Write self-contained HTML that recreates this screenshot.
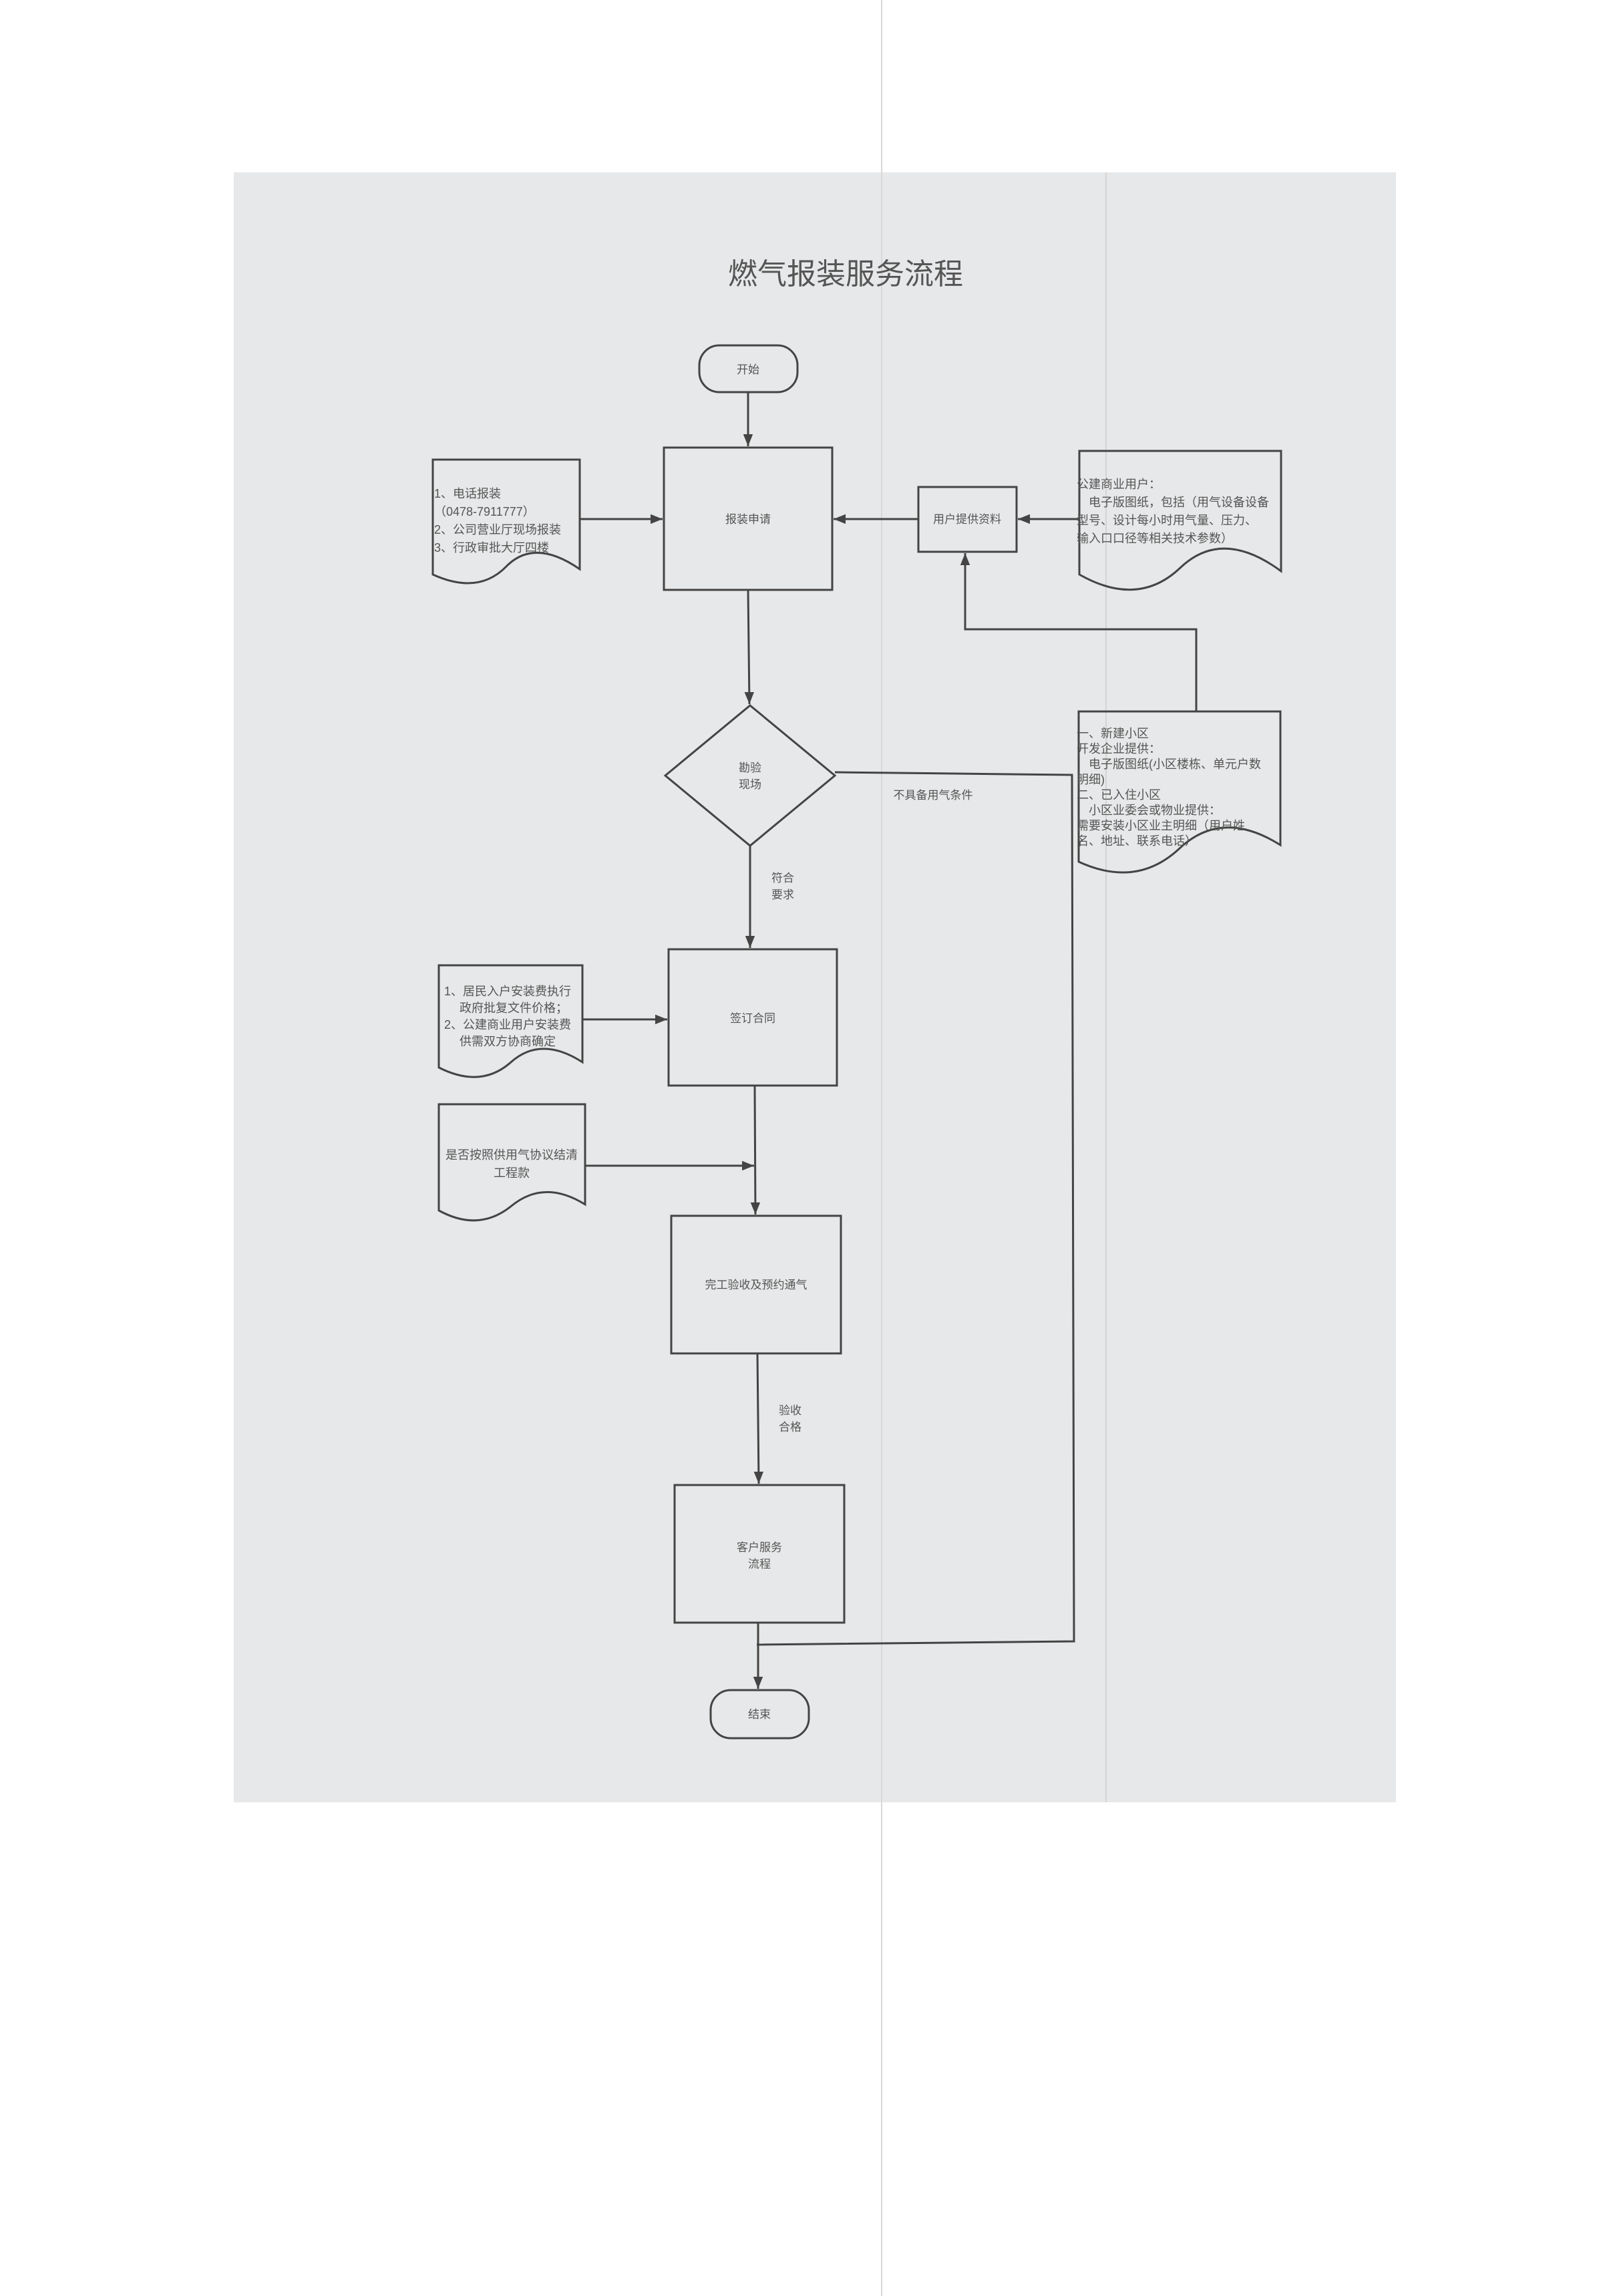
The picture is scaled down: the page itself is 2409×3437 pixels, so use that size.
<!DOCTYPE html>
<html><head><meta charset="utf-8"><style>
html,body{margin:0;padding:0;background:#fff;}
svg{display:block;}
text{font-family:"Liberation Sans","Noto Sans CJK SC",sans-serif;fill:#555;}
</style></head><body>
<svg width="2409" height="3437" viewBox="0 0 2409 3437" xmlns="http://www.w3.org/2000/svg">
<defs>
<marker id="a" viewBox="0 0 10 10" refX="10" refY="5" markerWidth="9" markerHeight="9" orient="auto" markerUnits="userSpaceOnUse">
<path d="M0,0 L10,5 L0,10 z" fill="#444"/></marker>
<marker id="b" viewBox="0 0 10 10" refX="10" refY="5" markerWidth="18" markerHeight="18" orient="auto" markerUnits="userSpaceOnUse">
<path d="M0,1 L10,5 L0,9 z" fill="#444"/></marker>
</defs>
<rect x="350" y="258" width="1740" height="2440" fill="#e7e8e9"/>
<line x1="1320" y1="0" x2="1320" y2="3437" stroke="#d8d8d8" stroke-width="2"/>
<line x1="1656" y1="258" x2="1656" y2="2698" stroke="#d4d4d4" stroke-width="2"/>

<text x="1266" y="425" font-size="44" text-anchor="middle" fill="#444">燃气报装服务流程</text>

<g fill="none" stroke="#444" stroke-width="3">
<rect x="1047" y="517" width="147" height="70" rx="30"/>
<rect x="994" y="670" width="252" height="213"/>
<rect x="1375" y="729" width="147" height="97"/>
<path d="M1123,1056 L1250,1161 L1123,1266 L996,1161 Z"/>
<rect x="1001" y="1421" width="252" height="204"/>
<rect x="1005" y="1820" width="254" height="206"/>
<rect x="1010" y="2223" width="254" height="206"/>
<rect x="1064" y="2530" width="147" height="72" rx="30"/>
<!-- documents -->
<path d="M648,688 H868 V852 Q800,805 758,848 T648,860 Z"/>
<path d="M1616,675 H1918 V855 Q1830,790 1767,850 T1616,860 Z"/>
<path d="M1615,1065 H1917 V1265 Q1830,1210 1766,1270 T1615,1290 Z"/>
<path d="M657,1445 H872 V1590 Q810,1550 765,1590 T657,1598 Z"/>
<path d="M657,1653 H876 V1803 Q815,1765 766,1805 T657,1812 Z"/>
</g>

<g fill="none" stroke="#444" stroke-width="3">
<line x1="1120" y1="587" x2="1120" y2="668" marker-end="url(#b)"/>
<line x1="868" y1="777" x2="992" y2="777" marker-end="url(#b)"/>
<line x1="1375" y1="777" x2="1248" y2="777" marker-end="url(#b)"/>
<line x1="1616" y1="777" x2="1524" y2="777" marker-end="url(#b)"/>
<polyline points="1791,1065 1791,942 1445,942 1445,828" marker-end="url(#b)"/>
<line x1="1120" y1="883" x2="1122" y2="1054" marker-end="url(#b)"/>
<polyline points="1250,1156 1605,1160 1608,2457 1133,2462"/>
<line x1="1123" y1="1266" x2="1123" y2="1419" marker-end="url(#b)"/>
<line x1="872" y1="1526" x2="999" y2="1526" marker-end="url(#b)"/>
<line x1="1130" y1="1625" x2="1131" y2="1818" marker-end="url(#b)"/>
<line x1="876" y1="1745" x2="1129" y2="1745" marker-end="url(#b)"/>
<line x1="1134" y1="2026" x2="1136" y2="2221" marker-end="url(#b)"/>
<line x1="1135" y1="2429" x2="1135" y2="2528" marker-end="url(#b)"/>
</g>

<g font-size="17" text-anchor="middle">
<text x="1120" y="559">开始</text>
<text x="1120" y="783">报装申请</text>
<text x="1448" y="783">用户提供资料</text>
<text x="1123" y="1155">勘验</text>
<text x="1123" y="1180">现场</text>
<text x="1127" y="1530">签订合同</text>
<text x="1132" y="1929">完工验收及预约通气</text>
<text x="1137" y="2322">客户服务</text>
<text x="1137" y="2347">流程</text>
<text x="1137" y="2572">结束</text>
<text x="1172" y="1320">符合</text>
<text x="1172" y="1345">要求</text>
<text x="1183" y="2117">验收</text>
<text x="1183" y="2142">合格</text>
<text x="1397" y="1196">不具备用气条件</text>
</g>

<g font-size="18">
<text x="650" y="745">1、电话报装</text>
<text x="650" y="772">（0478-7911777）</text>
<text x="650" y="799">2、公司营业厅现场报装</text>
<text x="650" y="826">3、行政审批大厅四楼</text>

<text x="1612" y="731">公建商业用户：</text>
<text x="1612" y="758">　电子版图纸，包括（用气设备设备</text>
<text x="1612" y="785">型号、设计每小时用气量、压力、</text>
<text x="1612" y="812">输入口口径等相关技术参数）</text>

<text x="1612" y="1104">一、新建小区</text>
<text x="1612" y="1127">开发企业提供：</text>
<text x="1612" y="1150">　电子版图纸(小区楼栋、单元户数</text>
<text x="1612" y="1173">明细)</text>
<text x="1612" y="1196">二、已入住小区</text>
<text x="1612" y="1219">　小区业委会或物业提供：</text>
<text x="1612" y="1242">需要安装小区业主明细（用户姓</text>
<text x="1612" y="1265">名、地址、联系电话）</text>

<text x="665" y="1490">1、居民入户安装费执行</text>
<text x="688" y="1515">政府批复文件价格；</text>
<text x="665" y="1540">2、公建商业用户安装费</text>
<text x="688" y="1565">供需双方协商确定</text>

<text x="766" y="1735" text-anchor="middle">是否按照供用气协议结清</text>
<text x="766" y="1762" text-anchor="middle">工程款</text>
</g>
</svg>
</body></html>
